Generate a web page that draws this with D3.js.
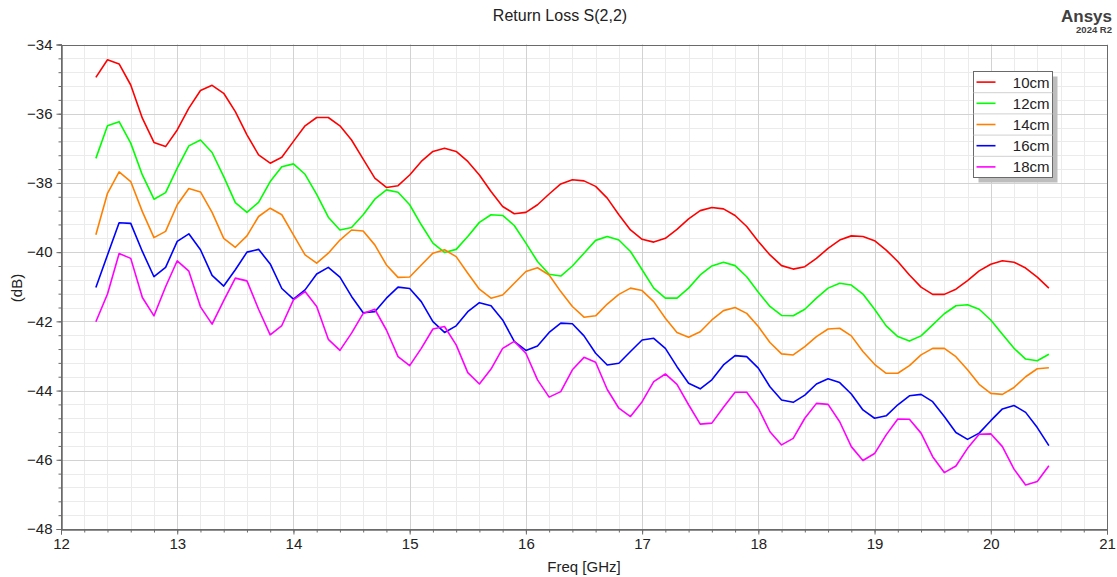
<!DOCTYPE html>
<html>
<head>
<meta charset="utf-8">
<script src="https://cdn.jsdelivr.net/npm/d3@7"></script>
<style>
  body { margin: 0; background: #fff; }
  svg { display: block; font-family: "Liberation Sans", Arial, sans-serif; }
</style>
</head>
<body>
<svg id="chart" width="1117" height="577"></svg>
<script>
// frequency points (GHz)
const freq = [12.3,12.4,12.5,12.6,12.7,12.8,12.9,13.0,13.1,13.2,13.3,13.4,13.5,13.6,13.7,13.8,13.9,
  14.0,14.1,14.2,14.3,14.4,14.5,14.6,14.7,14.8,14.9,15.0,15.1,15.2,15.3,15.4,15.5,15.6,15.7,15.8,15.9,
  16.0,16.1,16.2,16.3,16.4,16.5,16.6,16.7,16.8,16.9,17.0,17.1,17.2,17.3,17.4,17.5,17.6,17.7,17.8,17.9,
  18.0,18.1,18.2,18.3,18.4,18.5,18.6,18.7,18.8,18.9,19.0,19.1,19.2,19.3,19.4,19.5,19.6,19.7,19.8,19.9,
  20.0,20.1,20.2,20.3,20.4,20.5]

// return loss (dB) per cable length
const s10cm = [-34.95,-34.44,-34.56,-35.17,-36.13,-36.83,-36.95,-36.47,-35.84,-35.33,-35.18,-35.41,-35.94,-36.61,-37.19,-37.43,-37.26,
  -36.80,-36.35,-36.11,-36.11,-36.35,-36.76,-37.31,-37.86,-38.13,-38.08,-37.77,-37.38,-37.09,-37.00,-37.09,-37.38,-37.77,-38.25,-38.68,-38.89,
  -38.85,-38.63,-38.32,-38.03,-37.91,-37.94,-38.10,-38.44,-38.92,-39.36,-39.63,-39.71,-39.60,-39.34,-39.04,-38.80,-38.71,-38.75,-38.94,-39.26,
  -39.69,-40.08,-40.39,-40.49,-40.42,-40.18,-39.89,-39.65,-39.53,-39.55,-39.67,-39.94,-40.27,-40.66,-41.01,-41.22,-41.22,-41.07,-40.82,-40.54,
  -40.35,-40.25,-40.29,-40.46,-40.72,-41.04]
const s12cm = [-37.29,-36.35,-36.23,-36.85,-37.77,-38.47,-38.28,-37.57,-36.93,-36.76,-37.12,-37.82,-38.57,-38.85,-38.56,-37.96,-37.53,
  -37.45,-37.75,-38.33,-38.99,-39.36,-39.29,-38.92,-38.47,-38.20,-38.27,-38.63,-39.21,-39.74,-40.01,-39.92,-39.55,-39.14,-38.92,-38.94,-39.23,
  -39.74,-40.27,-40.64,-40.69,-40.40,-40.03,-39.66,-39.55,-39.65,-39.98,-40.51,-41.04,-41.33,-41.33,-41.04,-40.66,-40.40,-40.29,-40.39,-40.71,
  -41.16,-41.57,-41.83,-41.84,-41.65,-41.33,-41.04,-40.90,-40.95,-41.21,-41.65,-42.13,-42.44,-42.57,-42.42,-42.10,-41.78,-41.55,-41.52,-41.65,
  -41.96,-42.37,-42.78,-43.09,-43.14,-42.95]
const s14cm = [-39.50,-38.30,-37.68,-37.96,-38.83,-39.58,-39.40,-38.63,-38.16,-38.26,-38.85,-39.60,-39.86,-39.53,-38.97,-38.73,-38.92,
  -39.50,-40.08,-40.32,-40.03,-39.65,-39.36,-39.39,-39.79,-40.37,-40.73,-40.72,-40.37,-40.03,-39.93,-40.13,-40.61,-41.07,-41.33,-41.24,-40.90,
  -40.56,-40.45,-40.66,-41.14,-41.57,-41.88,-41.84,-41.50,-41.22,-41.04,-41.11,-41.43,-41.91,-42.32,-42.46,-42.30,-41.96,-41.69,-41.60,-41.77,
  -42.15,-42.61,-42.94,-42.97,-42.73,-42.44,-42.22,-42.20,-42.42,-42.87,-43.24,-43.50,-43.50,-43.28,-42.97,-42.78,-42.78,-43.02,-43.40,-43.82,
  -44.08,-44.11,-43.91,-43.60,-43.37,-43.34]
const s16cm = [-41.02,-40.08,-39.15,-39.17,-39.98,-40.71,-40.44,-39.69,-39.47,-39.93,-40.67,-40.98,-40.51,-40.00,-39.92,-40.34,-41.05,
  -41.36,-41.09,-40.63,-40.44,-40.72,-41.28,-41.75,-41.72,-41.33,-41.01,-41.05,-41.43,-42.01,-42.32,-42.13,-41.72,-41.46,-41.55,-41.96,-42.58,
  -42.84,-42.71,-42.32,-42.05,-42.07,-42.42,-42.92,-43.26,-43.21,-42.87,-42.54,-42.49,-42.78,-43.31,-43.79,-43.95,-43.69,-43.26,-42.99,-43.02,
  -43.35,-43.89,-44.27,-44.34,-44.13,-43.81,-43.66,-43.77,-44.10,-44.56,-44.80,-44.73,-44.41,-44.15,-44.11,-44.32,-44.75,-45.21,-45.41,-45.23,
  -44.87,-44.53,-44.43,-44.63,-45.07,-45.59]
const s18cm = [-42.01,-41.21,-40.04,-40.18,-41.31,-41.84,-41.00,-40.25,-40.55,-41.58,-42.08,-41.40,-40.75,-40.83,-41.65,-42.39,-42.12,
  -41.38,-41.14,-41.57,-42.52,-42.84,-42.34,-41.77,-41.65,-42.25,-43.02,-43.28,-42.78,-42.22,-42.15,-42.68,-43.48,-43.81,-43.38,-42.78,-42.58,
  -42.92,-43.69,-44.19,-44.03,-43.40,-43.04,-43.18,-43.97,-44.51,-44.75,-44.32,-43.74,-43.52,-43.82,-44.41,-44.97,-44.94,-44.48,-44.05,-44.05,
  -44.51,-45.19,-45.57,-45.38,-44.80,-44.37,-44.40,-44.90,-45.62,-46.02,-45.82,-45.28,-44.82,-44.83,-45.23,-45.91,-46.37,-46.18,-45.67,-45.26,
  -45.25,-45.62,-46.27,-46.73,-46.63,-46.17]

const seriesNames = ['10cm', '12cm', '14cm', '16cm', '18cm']
const seriesValues = [s10cm, s12cm, s14cm, s16cm, s18cm]
const colors = ['#ff0000', '#00ff00', '#ff8000', '#0000ff', '#ff00ff']

const xTicks = [12, 13, 14, 15, 16, 17, 18, 19, 20, 21]
const yTicks = [-48, -46, -44, -42, -40, -38, -36, -34]

const svg = d3.select('#chart')

// scales
const x = d3.scaleLinear()
    .domain([12, 21])
    .range([61, 1107])
const y = d3.scaleLinear()
    .domain([-48, -34])
    .range([529, 44.5])

// grid: minor first, then major on top
const minorX = d3.range(12, 21.001, 0.2).map(v => +v.toFixed(1))
const minorY = d3.range(-48, -33.999, 0.4).map(v => +v.toFixed(1))
const grid = svg.append('g')

grid.selectAll('.mx')
    .data(minorX)
    .enter()
    .append('line')
        .attr('x1', d => Math.round(x(d)) + 0.5)
        .attr('x2', d => Math.round(x(d)) + 0.5)
        .attr('y1', y(-48))
        .attr('y2', y(-34))
        .attr('stroke', '#ebebeb')
grid.selectAll('.my')
    .data(minorY)
    .enter()
    .append('line')
        .attr('x1', x(12))
        .attr('x2', x(21))
        .attr('y1', d => Math.round(y(d)) + 0.5)
        .attr('y2', d => Math.round(y(d)) + 0.5)
        .attr('stroke', '#ebebeb')
grid.selectAll('.Mx')
    .data(xTicks)
    .enter()
    .append('line')
        .attr('x1', d => Math.round(x(d)) + 0.5)
        .attr('x2', d => Math.round(x(d)) + 0.5)
        .attr('y1', y(-48))
        .attr('y2', y(-34))
        .attr('stroke', '#d2d2d2')
grid.selectAll('.My')
    .data(yTicks)
    .enter()
    .append('line')
        .attr('x1', x(12))
        .attr('x2', x(21))
        .attr('y1', d => Math.round(y(d)) + 0.5)
        .attr('y2', d => Math.round(y(d)) + 0.5)
        .attr('stroke', '#d2d2d2')

// curves
const line = d3.line()
    .x((d, i) => x(freq[i]))
    .y(d => y(d))

svg.append('g')
    .selectAll('path')
    .data(seriesValues)
    .enter()
    .append('path')
        .attr('d', d => line(d))
        .attr('fill', 'none')
        .attr('stroke', (d, i) => colors[i])
        .attr('stroke-width', 1.6)
        .attr('stroke-linejoin', 'round')

// frame
svg.append('rect')
    .attr('x', Math.round(x(12)) + 0.5)
    .attr('y', Math.round(y(-34)) + 0.5)
    .attr('width', Math.round(x(21)) - Math.round(x(12)))
    .attr('height', Math.round(y(-48)) - Math.round(y(-34)))
    .attr('fill', 'none')
    .attr('stroke', '#6a6a6a')

// x axis: minor ticks, then labelled major ticks
const xMinorAxis = d3.axisBottom(x).tickValues(minorX).tickSize(3).tickFormat('')
const xAxis = d3.axisBottom(x).tickValues(xTicks).tickSize(5).tickPadding(4).tickFormat(d3.format('d'))
svg.append('g')
    .attr('transform', `translate(0, ${Math.round(y(-48)) + 0.5})`)
    .call(xMinorAxis)
svg.append('g')
    .attr('class', 'axis')
    .attr('transform', `translate(0, ${Math.round(y(-48)) + 0.5})`)
    .call(xAxis)

// y axis
const yMinorAxis = d3.axisLeft(y).tickValues(minorY).tickSize(3).tickFormat('')
const yAxis = d3.axisLeft(y).tickValues(yTicks).tickSize(5).tickPadding(4).tickFormat(d3.format('d'))
svg.append('g')
    .attr('transform', `translate(${Math.round(x(12)) + 0.5}, 0)`)
    .call(yMinorAxis)
svg.append('g')
    .attr('class', 'axis')
    .attr('transform', `translate(${Math.round(x(12)) + 0.5}, 0)`)
    .call(yAxis)

svg.selectAll('.domain').attr('stroke', '#6a6a6a')
svg.selectAll('.tick line').attr('stroke', '#6a6a6a')
svg.selectAll('.axis text')
    .attr('fill', '#222')
    .style('font-size', '15px')
    .style('font-family', '"Liberation Sans", Arial, sans-serif')

// titles
svg.append('text')
    .attr('x', 560)
    .attr('y', 21)
    .attr('text-anchor', 'middle')
    .attr('fill', '#222')
    .style('font-size', '16px')
    .text('Return Loss S(2,2)')
svg.append('text')
    .attr('x', 584)
    .attr('y', 572)
    .attr('text-anchor', 'middle')
    .attr('fill', '#222')
    .style('font-size', '15px')
    .text('Freq [GHz]')
svg.append('text')
    .attr('transform', 'translate(22, 288) rotate(-90)')
    .attr('text-anchor', 'middle')
    .attr('fill', '#222')
    .style('font-size', '15px')
    .text('(dB)')

// Ansys mark
svg.append('text')
    .attr('x', 1112)
    .attr('y', 22)
    .attr('text-anchor', 'end')
    .attr('fill', '#404040')
    .style('font-size', '17px')
    .style('font-weight', 'bold')
    .text('Ansys')
svg.append('text')
    .attr('x', 1112)
    .attr('y', 33)
    .attr('text-anchor', 'end')
    .attr('fill', '#404040')
    .style('font-size', '9.5px')
    .style('font-weight', 'bold')
    .text('2024 R2')

// legend
const lgX = 973.5, lgY = 71.5, lgW = 79, rowH = 21.2
const legend = svg.append('g')
legend.append('rect')
    .attr('x', lgX + 5)
    .attr('y', lgY + 5)
    .attr('width', lgW)
    .attr('height', rowH * seriesNames.length)
    .attr('fill', '#bdbdbd')
legend.append('rect')
    .attr('x', lgX)
    .attr('y', lgY)
    .attr('width', lgW)
    .attr('height', rowH * seriesNames.length)
    .attr('fill', '#fff')
    .attr('stroke', '#6a6a6a')

const rows = legend.selectAll('.row')
    .data(seriesNames)
    .enter()
    .append('g')
        .attr('transform', (d, i) => `translate(${lgX}, ${lgY + i * rowH})`)
rows.filter((d, i) => i > 0)
    .append('line')
        .attr('x1', 0)
        .attr('x2', lgW)
        .attr('y1', 0)
        .attr('y2', 0)
        .attr('stroke', '#d0d0d0')
rows.append('line')
    .attr('x1', 3)
    .attr('x2', 22)
    .attr('y1', rowH / 2)
    .attr('y2', rowH / 2)
    .attr('stroke', (d, i) => colors[i])
    .attr('stroke-width', 1.6)
rows.append('text')
    .attr('x', lgW - 3)
    .attr('y', rowH / 2 + 5.5)
    .attr('text-anchor', 'end')
    .attr('fill', '#222')
    .style('font-size', '15px')
    .text(d => d)
</script>
</body>
</html>
